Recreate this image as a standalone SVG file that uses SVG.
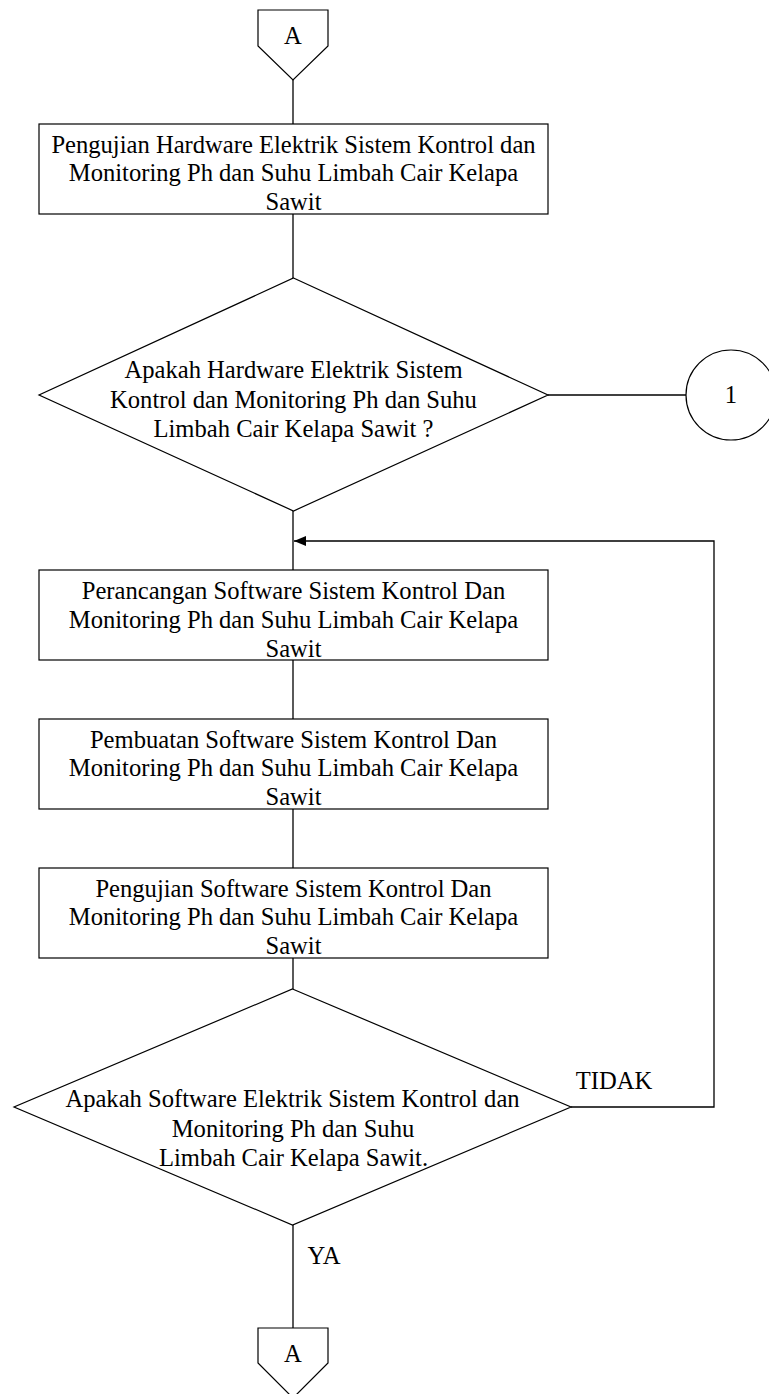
<svg xmlns="http://www.w3.org/2000/svg" width="769" height="1394" viewBox="0 0 769 1394">
<defs>
<style>
.s{fill:#fff;stroke:#000;stroke-width:1.2}
.l{fill:none;stroke:#000;stroke-width:1.3}
text{font-family:"Liberation Serif","Times New Roman",serif;font-size:24.6px;fill:#000;text-anchor:middle}
</style>
<marker id="ah" markerWidth="12" markerHeight="10" refX="12" refY="5" orient="auto" markerUnits="userSpaceOnUse">
<path d="M0,0 L12,5 L0,10 Z" fill="#000"/>
</marker>
</defs>
<rect width="769" height="1394" fill="#fff"/>
<g id="connectors">
<line class="l" x1="293" y1="80" x2="293" y2="124"/>
<line class="l" x1="293" y1="214" x2="293" y2="278"/>
<line class="l" x1="548" y1="395" x2="686" y2="395"/>
<line class="l" x1="293" y1="511" x2="293" y2="570"/>
<line class="l" x1="293" y1="660" x2="293" y2="719"/>
<line class="l" x1="293" y1="809" x2="293" y2="868"/>
<line class="l" x1="293" y1="958" x2="293" y2="989"/>
<polyline class="l" points="571,1107 714,1107 714,541 294,541" marker-end="url(#ah)"/>
<line class="l" x1="293" y1="1225" x2="293" y2="1328"/>
<text x="614" y="1089" style="text-anchor:middle">TIDAK</text>
<text x="324" y="1264">YA</text>
</g>
<g id="conn-top">
<polygon class="s" points="258,10 328,10 328,46 293,80 258,46"/>
<text x="293" y="44">A</text>
</g>
<g id="box1">
<rect class="s" x="39" y="124" width="509" height="90"/>
<text x="293.5" y="152.5">Pengujian Hardware Elektrik Sistem Kontrol dan</text>
<text x="293.5" y="181">Monitoring Ph dan Suhu Limbah Cair Kelapa</text>
<text x="293.5" y="210">Sawit</text>
</g>
<g id="decision1">
<polygon class="s" points="293.5,278 548,395 293.5,511 39,395"/>
<text x="293.5" y="377.5">Apakah Hardware Elektrik Sistem</text>
<text x="293.5" y="407.5">Kontrol dan Monitoring Ph dan Suhu</text>
<text x="293.5" y="437">Limbah Cair Kelapa Sawit ?</text>
</g>
<g id="circle1">
<circle class="s" cx="731" cy="395" r="45"/>
<text x="731" y="403">1</text>
</g>
<g id="box2">
<rect class="s" x="39" y="570" width="509" height="90"/>
<text x="293.5" y="599">Perancangan Software Sistem Kontrol Dan</text>
<text x="293.5" y="628">Monitoring Ph dan Suhu Limbah Cair Kelapa</text>
<text x="293.5" y="656.5">Sawit</text>
</g>
<g id="box3">
<rect class="s" x="39" y="719" width="509" height="90"/>
<text x="293.5" y="747.5">Pembuatan Software Sistem Kontrol Dan</text>
<text x="293.5" y="776">Monitoring Ph dan Suhu Limbah Cair Kelapa</text>
<text x="293.5" y="804.5">Sawit</text>
</g>
<g id="box4">
<rect class="s" x="39" y="868" width="509" height="90"/>
<text x="293.5" y="896.5">Pengujian Software Sistem Kontrol Dan</text>
<text x="293.5" y="925">Monitoring Ph dan Suhu Limbah Cair Kelapa</text>
<text x="293.5" y="953.5">Sawit</text>
</g>
<g id="decision2">
<polygon class="s" points="292.5,989 571,1107 292.5,1225 14,1107"/>
<text x="292.5" y="1107">Apakah Software Elektrik Sistem Kontrol dan</text>
<text x="293" y="1136.5">Monitoring Ph dan Suhu</text>
<text x="293.5" y="1166">Limbah Cair Kelapa Sawit.</text>
</g>
<g id="conn-bottom">
<polygon class="s" points="258,1328 328,1328 328,1363 293,1398 258,1363"/>
<text x="293" y="1362">A</text>
</g>
</svg>
